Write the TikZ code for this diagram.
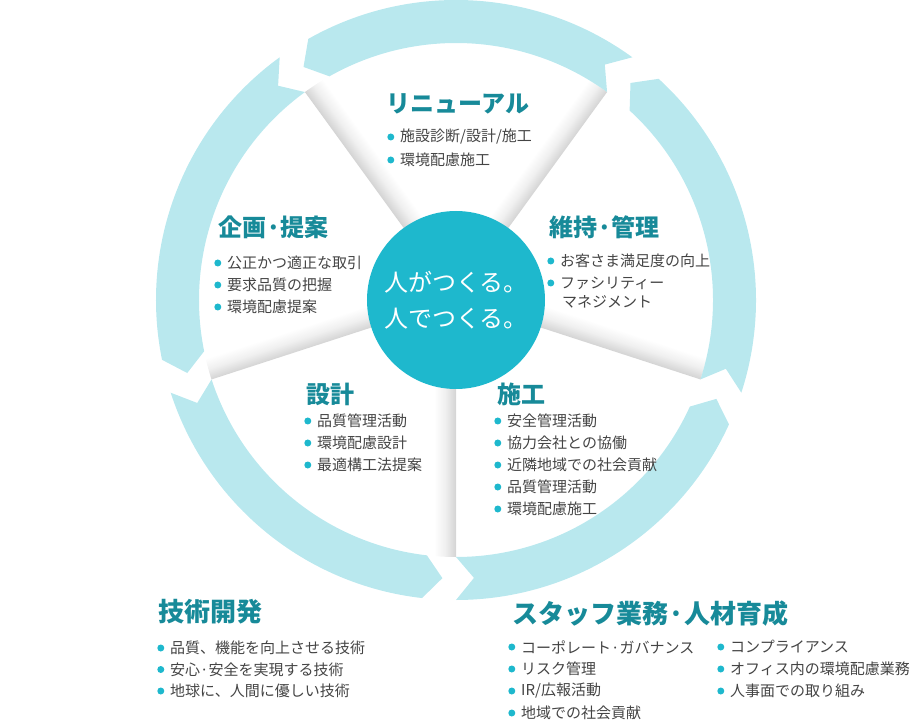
\documentclass[tikz,border=0pt]{standalone}
\usepackage{fontspec}
\setmainfont{Noto Sans CJK JP}
\definecolor{ringblue}{HTML}{B9E8EE}
\definecolor{coreblue}{HTML}{1EB8CD}
\definecolor{headteal}{HTML}{178A99}
\definecolor{bodygray}{HTML}{444444}
\begin{document}
\begin{tikzpicture}[x=1pt,y=1pt,
  heading/.style={anchor=west, inner sep=0pt, text=headteal, font=\bfseries\fontsize{24}{28}\selectfont},
  bigheading/.style={heading, font=\bfseries\fontsize{26}{30}\selectfont},
  bulletdot/.style={circle, fill=coreblue, inner sep=0pt, minimum size=7pt, xshift=-5.5pt},
  item/.style={anchor=west, inner sep=0pt, text=bodygray, font=\fontsize{15}{18}\selectfont,
    label={[bulletdot]left:{}}},
  plainitem/.style={anchor=west, inner sep=0pt, text=bodygray, font=\fontsize{15}{18}\selectfont},
  core/.style={circle, fill=coreblue, minimum size=178pt, inner sep=0pt, text=white, align=center,
    font=\fontsize{24}{36}\selectfont}]
\useasboundingbox (-456,-422) rectangle (456,300);

% shadows along the folds
\begin{scope}
\clip (0,0) circle (257pt);
\foreach \d/\ct/\cb/\w in {126/black!17/white/-22, 54/white/black!17/22, -18/white/black!17/22,
                           -90/black!17/white/-22, 198/black!17/white/-22}{
  \begin{scope}[transform canvas={rotate=\d}]
  \shade[top color=\ct, bottom color=\cb, middle color=black!6] (0,0) rectangle (262,\w);
  \end{scope}
}
\end{scope}

% ring of arrows
\foreach \d in {-90,-18,54,126,198}{
  \pgfmathsetmacro{\e}{\d+72}
  \fill[ringblue] (\d:300pt) arc[start angle=\d, end angle=\e-6.5, radius=300pt]
    -- ({\e-2.8}:278.5pt) -- ({\e-6.5}:257pt)
    arc[start angle=\e-6.5, end angle=\d, radius=257pt]
    -- ({\d+3.7}:278.5pt) -- cycle;
}

\node[core] (core) at (0,0) {人がつくる。\\人でつくる。};

% segments
\node[heading] (renewal) at (-70,196) {リニューアル};
\node[item] (renewal1) at (-56,163) {施設診断/設計/施工};
\node[item] (renewal2) at (-56,140) {環境配慮施工};

\node[heading] (plan) at (-238,73) {企画·提案};
\foreach \t [count=\i] in {公正かつ適正な取引, 要求品質の把握, 環境配慮提案}
  \node[item] (plan\i) at (-229,59-22*\i) {\t};

\node[heading] (keep) at (93,73) {維持·管理};
\node[item] (keep1) at (104,39) {お客さま満足度の向上};
\node[item] (keep2) at (104,17) {ファシリティー};
\node[plainitem] (keep3) at (106,-2) {マネジメント};

\node[heading] (design) at (-150,-94) {設計};
\foreach \t [count=\i] in {品質管理活動, 環境配慮設計, 最適構工法提案}
  \node[item] (design\i) at (-139,-99-22*\i) {\t};

\node[heading] (build) at (41,-94) {施工};
\foreach \t [count=\i] in {安全管理活動, 協力会社との協働, 近隣地域での社会貢献, 品質管理活動, 環境配慮施工}
  \node[item] (build\i) at (51,-99-22*\i) {\t};

% lower lists
\node[bigheading] (tech) at (-298,-312) {技術開発};
\foreach \t [count=\i] in {品質、機能を向上させる技術, 安心·安全を実現する技術, 地球に、人間に優しい技術}
  \node[item] (tech\i) at (-286,-326.5-21.5*\i) {\t};

\node[bigheading] (staff) at (56,-314) {スタッフ業務·人材育成};
\foreach \t [count=\i] in {コーポレート·ガバナンス, リスク管理, IR/広報活動, 地域での社会貢献}
  \node[item] (staffa\i) at (65,-325-22*\i) {\t};
\foreach \t [count=\i] in {コンプライアンス, オフィス内の環境配慮業務, 人事面での取り組み}
  \node[item] (staffb\i) at (274,-325-22*\i) {\t};
\end{tikzpicture}
\end{document}
